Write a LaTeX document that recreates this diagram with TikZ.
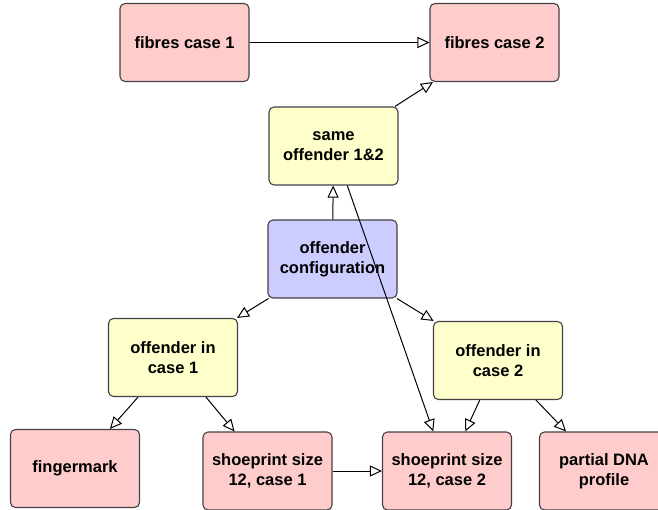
\documentclass[tikz,border=0pt]{standalone}
\usepackage{fontspec}
\setmainfont{Liberation Sans}
\usepackage{tikz}
\usetikzlibrary{arrows,arrows.meta,positioning}
\definecolor{evpink}{HTML}{FFCCCC}
\definecolor{hypyellow}{HTML}{FFFFCC}
\definecolor{cfgblue}{HTML}{CCCCFF}
\definecolor{boxrim}{HTML}{454045}
\tikzset{>={Triangle[open,length=12pt,width=11pt,fill=white]}}
\tikzset{
  netnode/.style={draw=boxrim, line width=1.1pt, rounded corners=5pt,
    minimum width=129pt, minimum height=78pt, align=center, inner sep=2pt,
    font=\bfseries\fontsize{16.5}{20}\selectfont},
  evidence/.style={netnode, fill=evpink},
  hypothesis/.style={netnode, fill=hypyellow},
  configbox/.style={netnode, fill=cfgblue},
  link/.style={->, line width=1pt}
}

\begin{document}
\begin{tikzpicture}[x=1pt,y=-1pt]
      \clip (0,0) rectangle (658,510);
        % top row
        \node[evidence] at (184.5,42.5) (fibresone) {fibres case 1};
        \node[evidence] at (494.5,42.5) (fibrestwo) {fibres case 2};
        % hypotheses
        \node[hypothesis] at (333.5,146) (same) {same\\offender 1\&2};
        \node[configbox] at (332.5,259) (config) {offender\\configuration};
        \node[hypothesis] at (173,357.5) (offone) {offender in\\case 1};
        \node[hypothesis] at (498,360.5) (offtwo) {offender in\\case 2};
        % bottom row
        \node[evidence] at (75,468.5) (finger) {fingermark};
        \node[evidence] at (267.5,471) (shoeone) {shoeprint size\\12, case 1};
        \node[evidence] at (447,471) (shoetwo) {shoeprint size\\12, case 2};
        \node[evidence] at (604,471) (dna) {partial DNA\\profile};

        \draw[link] (fibresone) -- (fibrestwo);
        \draw[link] (same) -- (fibrestwo);
        \draw[link] (config) -- (same);
        \draw[link] (same) -- (shoetwo);
        \draw[link] (config) -- (offone);
        \draw[link] (config) -- (offtwo);
        \draw[link] (offone) -- (finger);
        \draw[link] (offone) -- (shoeone);
        \draw[link] (offtwo) -- (shoetwo);
        \draw[link] (offtwo) -- (dna);
        \draw[link] (shoeone) -- (shoetwo);
      \end{tikzpicture}
\end{document}
